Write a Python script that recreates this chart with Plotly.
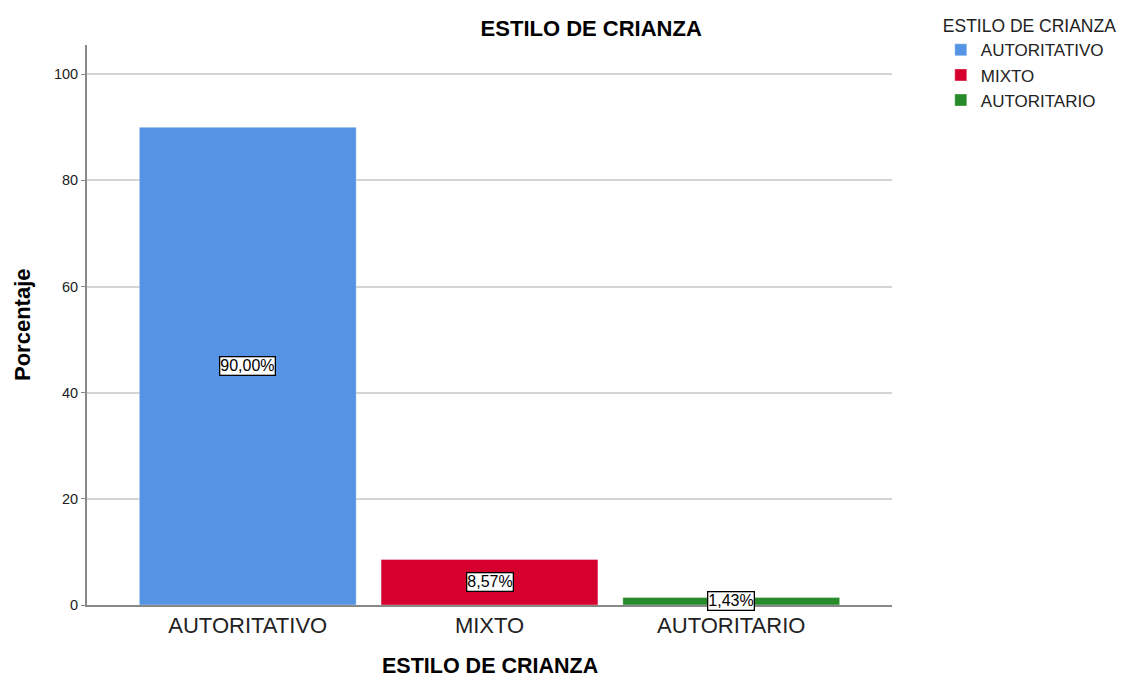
import plotly.graph_objects as go

categories = ["AUTORITATIVO", "MIXTO", "AUTORITARIO"]
percentages = [90.00, 8.57, 1.43]
labels = ["90,00%", "8,57%", "1,43%"]
colors = ["#5594E4", "#D6002F", "#278A2B"]
y_ticks = [0, 20, 40, 60, 80, 100]

FONT = "Liberation Sans, Arial, sans-serif"

fig = go.Figure()
for cat, val, col in zip(categories, percentages, colors):
    fig.add_trace(go.Bar(
        x=[cat], y=[val], name=cat, width=0.897,
        marker=dict(color=col, line=dict(color="rgba(255,255,255,0.35)", width=1)),
        hoverinfo="x+y",
    ))

for cat, val, lab in zip(categories, percentages, labels):
    fig.add_annotation(
        x=cat, y=val / 2, text=lab, showarrow=False,
        font=dict(family=FONT, size=16, color="#000000"),
        bgcolor="white", bordercolor="#000000", borderwidth=1.3, borderpad=0,
    )

# axis titles
fig.add_annotation(x=0.5, y=0, xref="paper", yref="paper", yshift=-61,
                   text="<b>ESTILO DE CRIANZA</b>", showarrow=False,
                   xanchor="center", yanchor="middle",
                   font=dict(family=FONT, size=21.5, color="#000"))
fig.add_annotation(x=0, y=0.5, xref="paper", yref="paper", xshift=-65,
                   text="<b>Porcentaje</b>", showarrow=False, textangle=-90,
                   xanchor="center", yanchor="middle",
                   font=dict(family=FONT, size=22, color="#000"))

fig.update_layout(
    width=1124, height=681,
    barmode="overlay",
    paper_bgcolor="white", plot_bgcolor="white",
    margin=dict(l=87, r=232, t=45, b=76, autoexpand=False),
    font=dict(family=FONT, color="#000000"),
    title=dict(text="<b>ESTILO DE CRIANZA</b>", x=0.526, xanchor="center",
               y=0.959, yanchor="middle", xref="container", yref="container",
               font=dict(family=FONT, size=22, color="#000000")),
    legend=dict(
        title=dict(text="ESTILO DE CRIANZA", font=dict(family=FONT, size=17.5, color="#222")),
        xref="container", yref="container",
        x=0.837, xanchor="left", y=0.986, yanchor="top",
        font=dict(family=FONT, size=17, color="#222"),
        bgcolor="rgba(0,0,0,0)", tracegroupgap=0, itemwidth=30,
    ),
    xaxis=dict(
        range=[-0.665, 2.665], automargin=False,
        showline=True, linecolor="#888888", linewidth=1.5,
        ticks="", tickfont=dict(family=FONT, size=22, color="#222"),
        showgrid=False,
    ),
    yaxis=dict(
        range=[0, 105.5], tickvals=y_ticks, automargin=False,
        showline=True, linecolor="#888888", linewidth=2,
        ticks="outside", ticklen=4, tickcolor="#888888",
        tickfont=dict(family=FONT, size=14.5, color="#222"),
        showgrid=True, gridcolor="#D4D4D4", gridwidth=2,
        zeroline=False,
    ),
)

fig.write_html("out.html", config={"displayModeBar": False},
               post_script="document.body.style.margin='0';")
